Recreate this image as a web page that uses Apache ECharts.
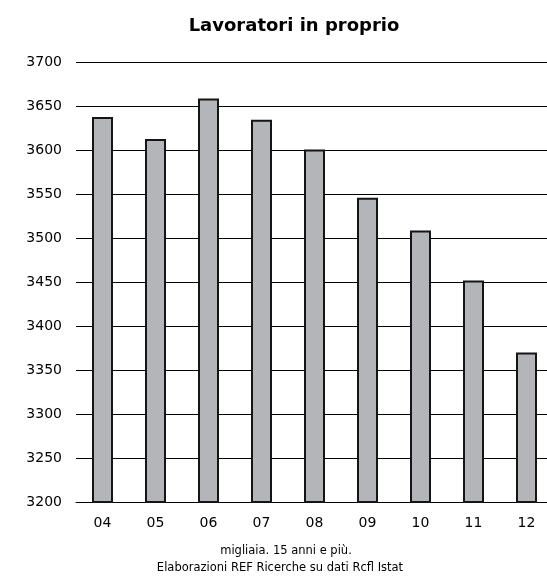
<!DOCTYPE html>
<html>
<head>
<meta charset="utf-8">
<script src="https://cdn.jsdelivr.net/npm/echarts@6/dist/echarts.min.js"></script>
<style>
html,body{margin:0;padding:0;background:#fff;overflow:hidden;width:547px;height:582px;}
#chart{width:553px;height:582px;}
</style>
</head>
<body>
<div id="chart"></div>
<script>
var categories = ['04','05','06','07','08','09','10','11','12'];
var values = [3638, 3613, 3659, 3635, 3601, 3546, 3509, 3452, 3370];
var yTickMin = 3200, yTickMax = 3700, yTickStep = 50;
var titleText = 'Lavoratori in proprio';
var footLine1 = 'migliaia. 15 anni e più.';
var footLine2 = 'Elaborazioni REF Ricerche su dati Rcfl Istat';

var chart = echarts.init(document.getElementById('chart'), null, {renderer:'canvas'});
var font = 'DejaVu Sans, Verdana, sans-serif';
chart.setOption({
  animation: false,
  backgroundColor: '#fff',
  title: [{
    text: titleText,
    left: 289, top: 12, textAlign: 'center',
    textStyle: {fontFamily: font, fontSize: 18, fontWeight: 'bold', color: '#000'}
  },{
    text: footLine1,
    left: 281, top: 540, textAlign: 'center',
    textStyle: {fontFamily: font, fontSize: 11.5, fontWeight: 'normal', color: '#000'}
  },{
    text: footLine2,
    left: 275, top: 557, textAlign: 'center',
    textStyle: {fontFamily: font, fontSize: 11.5, fontWeight: 'normal', color: '#000'}
  }],
  grid: {left: 76, top: 62.5, right: 0, height: 439.5, containLabel: false},
  xAxis: {
    type: 'category', data: categories,
    axisLine: {show: true, lineStyle: {color: '#000', width: 1}},
    axisTick: {show: false},
    axisLabel: {fontFamily: font, fontSize: 14, color: '#000', margin: 14}
  },
  yAxis: {
    type: 'value', min: yTickMin, max: yTickMax, interval: yTickStep,
    axisLine: {show: false}, axisTick: {show: false},
    axisLabel: {fontFamily: font, fontSize: 14, color: '#000', margin: 14,
      formatter: function(v){ return String(v); }},
    splitLine: {show: true, lineStyle: {color: '#000', width: 1}}
  },
  series: [{
    type: 'bar', data: values, barWidth: 21,
    itemStyle: {color: '#b4b5b9', borderColor: '#151515', borderWidth: 2}
  }]
});
</script>
</body>
</html>
